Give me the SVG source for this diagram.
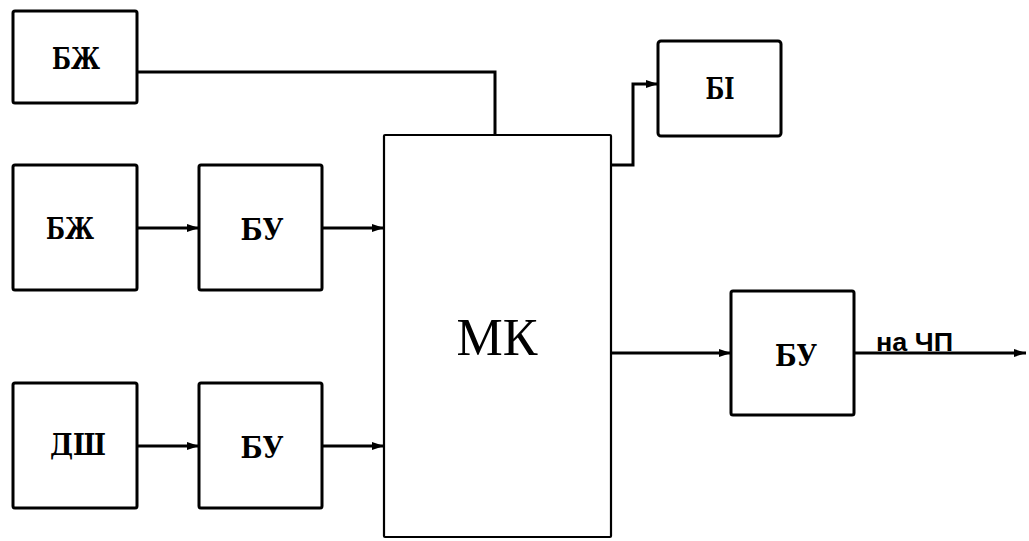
<svg xmlns="http://www.w3.org/2000/svg" width="1029" height="541" viewBox="0 0 1029 541">
  <style>
    .box { fill: #fff; stroke: #000; stroke-width: 3; }
    .mk { fill: #fff; stroke: #000; stroke-width: 2.2; }
    .lbl { font-family: "DejaVu Serif", "Liberation Serif", serif; font-weight: bold; font-size: 29px; text-anchor: middle; dominant-baseline: central; }
    .big { font-family: "Liberation Serif", "Times New Roman", serif; font-size: 52px; text-anchor: middle; dominant-baseline: central; }
    .note { font-family: "Liberation Sans", Arial, sans-serif; font-weight: bold; font-size: 25px; }
    .wire { fill: none; stroke: #000; stroke-width: 3; }
  </style>
  <defs>
    <marker id="arrow" markerUnits="userSpaceOnUse" markerWidth="13" markerHeight="11" refX="12" refY="5.5" orient="auto">
      <path d="M0,1.5 L12,5.5 L0,9.5 Z" fill="#000"/>
    </marker>
  </defs>

  <g id="connectors">
    <path class="wire" d="M137,72 H495 V135"/>
    <path class="wire" d="M137,228 H199" marker-end="url(#arrow)"/>
    <path class="wire" d="M322,228 H384" marker-end="url(#arrow)"/>
    <path class="wire" d="M137,446 H199" marker-end="url(#arrow)"/>
    <path class="wire" d="M322,446 H384" marker-end="url(#arrow)"/>
    <path class="wire" d="M611,165 H633 V84 H658" marker-end="url(#arrow)"/>
    <path class="wire" d="M611,353 H731" marker-end="url(#arrow)"/>
    <path class="wire" d="M854,353 H1026" marker-end="url(#arrow)"/>
  </g>

  <g id="bzh-top">
    <rect class="box" x="13" y="11" width="124" height="92" rx="2"/>
    <text class="lbl" x="76" y="59" textLength="48" lengthAdjust="spacingAndGlyphs">БЖ</text>
  </g>
  <g id="bzh-mid">
    <rect class="box" x="13" y="165" width="124" height="125" rx="2"/>
    <text class="lbl" x="70" y="229" textLength="48" lengthAdjust="spacingAndGlyphs">БЖ</text>
  </g>
  <g id="bu-mid">
    <rect class="box" x="199" y="165" width="123" height="125" rx="2"/>
    <text class="lbl" x="262" y="230" textLength="43" lengthAdjust="spacingAndGlyphs">БУ</text>
  </g>
  <g id="dsh">
    <rect class="box" x="13" y="383" width="124" height="125" rx="2"/>
    <text class="lbl" x="78" y="445" textLength="56" lengthAdjust="spacingAndGlyphs">ДШ</text>
  </g>
  <g id="bu-low">
    <rect class="box" x="199" y="383" width="123" height="125" rx="2"/>
    <text class="lbl" x="262" y="448" textLength="43" lengthAdjust="spacingAndGlyphs">БУ</text>
  </g>
  <g id="mk">
    <rect class="mk" x="384" y="135" width="227" height="402" rx="1"/>
    <text class="big" x="497" y="337">МК</text>
  </g>
  <g id="bi">
    <rect class="box" x="658" y="41" width="123" height="95" rx="3"/>
    <text class="lbl" x="720" y="89" textLength="29" lengthAdjust="spacingAndGlyphs">БІ</text>
  </g>
  <g id="bu-out">
    <rect class="box" x="731" y="291" width="123" height="124" rx="2"/>
    <text class="lbl" x="796" y="356" textLength="42" lengthAdjust="spacingAndGlyphs">БУ</text>
  </g>
  <g id="out-label">
    <text class="note" x="876" y="351" textLength="77" lengthAdjust="spacingAndGlyphs">на ЧП</text>
  </g>
</svg>
